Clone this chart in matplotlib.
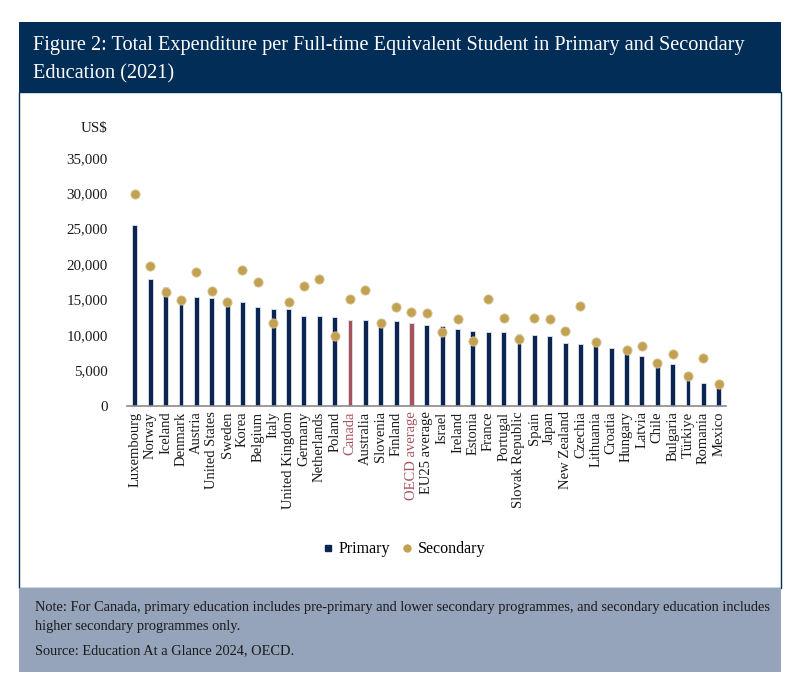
import matplotlib.pyplot as plt
import numpy as np
from matplotlib.patches import Rectangle
from matplotlib.lines import Line2D

countries = ["Luxembourg", "Norway", "Iceland", "Denmark", "Austria", "United States",
             "Sweden", "Korea", "Belgium", "Italy", "United Kingdom", "Germany",
             "Netherlands", "Poland", "Canada", "Australia", "Slovenia", "Finland",
             "OECD average", "EU25 average", "Israel", "Ireland", "Estonia", "France",
             "Portugal", "Slovak Republic", "Spain", "Japan", "New Zealand", "Czechia",
             "Lithuania", "Croatia", "Hungary", "Latvia", "Chile", "Bulgaria",
             "Türkiye", "Romania", "Mexico"]
primary = [25500, 17900, 16700, 14600, 15300, 15150, 14400, 14700, 13900, 13700,
           13650, 12700, 12700, 12550, 12100, 12050, 11400, 11950, 11750, 11350,
           11200, 10850, 10550, 10450, 10350, 10100, 10050, 9850, 8800, 8700,
           8550, 8100, 7600, 7100, 5750, 5900, 3850, 3250, 2800]
secondary = [29900, 19750, 16000, 15000, 18950, 16200, 14700, 19200, 17450, 11650,
             14600, 16950, 17850, 9800, 15100, 16400, 11750, 13900, 13250, 13150,
             10400, 12300, 9200, 15050, 12400, 9450, 12450, 12300, 10500, 14100,
             9000, np.nan, 7900, 8450, 6050, 7250, 4250, 6800, 3050]
highlight = ["Canada", "OECD average"]

navy = "#0c2550"
red = "#a8525d"
gold = "#c2a152"

plt.rcParams['font.family'] = ['Liberation Serif', 'DejaVu Serif']

fig = plt.figure(figsize=(8, 6.89), dpi=100)

# header, body frame and footer
fig.patches.append(Rectangle((0.02375, 0.8665), 0.9525, 0.1015, transform=fig.transFigure,
                             facecolor="#022d56", edgecolor="none", zorder=0))
fig.patches.append(Rectangle((0.02375, 0.1466), 0.9525, 0.7199, transform=fig.transFigure,
                             facecolor="white", edgecolor="#022d56", linewidth=1, zorder=0))
fig.patches.append(Rectangle((0.02375, 0.0247), 0.9525, 0.1219, transform=fig.transFigure,
                             facecolor="#95a3bb", edgecolor="none", zorder=0))

fig.text(0.041, 0.913, "Figure 2: Total Expenditure per Full-time Equivalent Student in Primary and Secondary\nEducation (2021)",
         color="white", fontsize=14.6, va="center", ha="left", linespacing=1.62)
fig.text(0.044, 0.104, "Note: For Canada, primary education includes pre-primary and lower secondary programmes, and secondary education includes\nhigher secondary programmes only.",
         color="#1a1a1a", fontsize=10.38, va="center", ha="left", linespacing=1.6)
fig.text(0.044, 0.056, "Source: Education At a Glance 2024, OECD.",
         color="#1a1a1a", fontsize=10.38, va="center", ha="left")

ax = fig.add_axes([0.159, 0.411, 0.749, 0.36])
ax.set_zorder(2)
ax.patch.set_alpha(0)
x = np.arange(len(countries))
colors = [red if c in highlight else navy for c in countries]
ax.bar(x, primary, width=0.32, color=colors, edgecolor="#dde3ee", linewidth=0.6, zorder=2)
ax.scatter(x, secondary, s=44, color=gold, edgecolor="#d8c48e", linewidth=0.6, zorder=3)

ax.set_xlim(-0.5, len(countries) - 0.5)
ax.set_ylim(0, 35000)
ax.set_yticks(np.arange(0, 35001, 5000))
ax.set_yticklabels([f"{v:,}" for v in range(0, 35001, 5000)], fontsize=10.8, color="#1a1a1a")
ax.set_xticks(x)
ax.set_xticklabels(countries, rotation=90, fontsize=10.5, color="#1a1a1a")
for lbl in ax.get_xticklabels():
    if lbl.get_text() in highlight:
        lbl.set_color(red)
ax.tick_params(axis="both", length=0)
ax.tick_params(axis="y", pad=14)
ax.tick_params(axis="x", pad=4)
for s in ["top", "right", "left"]:
    ax.spines[s].set_visible(False)
ax.spines["bottom"].set_color("#8a8a8a")
ax.spines["bottom"].set_linewidth(1.2)

ax.text(-0.055, 1.12, "US$", transform=ax.transAxes, fontsize=10.8, ha="center", va="center",
        color="#1a1a1a")

handles = [Line2D([], [], marker="s", linestyle="none", color=navy, markersize=4.5),
           Line2D([], [], marker="o", linestyle="none", color=gold, markersize=5)]
fig.legend(handles, ["Primary", "Secondary"], loc="center", bbox_to_anchor=(0.505, 0.203),
           ncol=2, frameon=False, fontsize=11.5, handlelength=0.6, handletextpad=0.35,
           columnspacing=0.8)

fig.savefig("out.png", dpi=100)
